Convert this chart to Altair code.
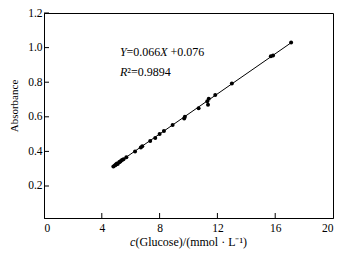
import altair as alt
import pandas as pd

# ---- data ----
conc = [4.8, 4.9, 4.95, 5.0, 5.05, 5.1, 5.2, 5.25, 5.3, 5.4, 5.5, 5.7,
        6.3, 6.7, 6.8, 7.35, 7.7, 8.0, 8.3, 8.9, 9.7, 9.75, 10.7,
        11.3, 11.35, 11.4, 11.85, 13.0, 15.7, 15.85, 17.1]
absorb = [0.313, 0.318, 0.322, 0.325, 0.330, 0.327, 0.337, 0.340, 0.343, 0.350, 0.355, 0.366,
          0.400, 0.423, 0.430, 0.460, 0.478, 0.500, 0.518, 0.553, 0.590, 0.600, 0.650,
          0.690, 0.670, 0.705, 0.726, 0.793, 0.950, 0.955, 1.030]
fit_x = [4.8, 17.1]
fit_y = [0.315, 1.028]
x_ticks = [0, 4, 8, 12, 16, 20]
x_inner_ticks = [4, 8, 12, 16]
y_ticks = [0.2, 0.4, 0.6, 0.8, 1.0, 1.2]
eq_parts = ["Y", "=0.066", "X", "+0.076"]
eq_italic = [True, False, True, False]
eq_dx = [0, 6.5, 40.3, 50.6]
r2_parts = ["R", "²=0.9894"]
r2_italic = [True, False]
r2_dx = [0, 7.3]
eq_pos = (5.26, 0.976)
r2_pos = (5.26, 0.859)
x_title_parts = ["c", "(Glucose)/(mmol · L⁻¹)"]
y_title = "Absorbance"

FONT = "Liberation Serif"
W, H = 289, 205
TICK = 5

xs = alt.Scale(domain=[0, 20], nice=False, zero=False)
ys = alt.Scale(domain=[0.015, 1.2], nice=False, zero=False)

pts_df = pd.DataFrame({"c": conc, "A": absorb})
fit_df = pd.DataFrame({"c": fit_x, "A": fit_y})
xt_df = pd.DataFrame({"c": x_inner_ticks})
yt_df = pd.DataFrame({"A": y_ticks})

x_axis = alt.Axis(orient="bottom", values=x_ticks, ticks=False, tickSize=0, labelPadding=4,
                  domain=True, domainColor="black", domainWidth=1, grid=False,
                  title=None, labelFont=FONT, labelFontSize=11.5,
                  labelColor="black", format="d")
y_axis = alt.Axis(orient="left", values=y_ticks, ticks=False, tickSize=0, labelPadding=2,
                  domain=True, domainColor="black", domainWidth=1, grid=False,
                  title=None, labelFont=FONT, labelFontSize=11.5,
                  labelColor="black", format=".1f")

line = alt.Chart(fit_df).mark_line(color="black", strokeWidth=1).encode(
    x=alt.X("c:Q", scale=xs, axis=x_axis),
    y=alt.Y("A:Q", scale=ys, axis=y_axis),
)

pts = alt.Chart(pts_df).mark_circle(color="black", opacity=1, size=16).encode(
    x=alt.X("c:Q", scale=xs, axis=x_axis),
    y=alt.Y("A:Q", scale=ys, axis=y_axis),
)

# inward-pointing axis ticks, positioned by the scales
x_tick_marks = alt.Chart(xt_df).mark_tick(
    orient="vertical", size=TICK, thickness=1, color="black", opacity=1
).encode(x=alt.X("c:Q", scale=xs, axis=x_axis), y=alt.value(H - TICK / 2))
y_tick_marks = alt.Chart(yt_df).mark_tick(
    orient="horizontal", size=TICK, thickness=1, color="black", opacity=1
).encode(y=alt.Y("A:Q", scale=ys, axis=y_axis), x=alt.value(TICK / 2))

layers = [line, pts, x_tick_marks, y_tick_marks]


def seg(text, italic, dx, pos):
    df = pd.DataFrame({"c": [pos[0]], "A": [pos[1]], "t": [text]})
    return alt.Chart(df).mark_text(
        font=FONT, fontSize=12, fontStyle="italic" if italic else "normal",
        align="left", baseline="middle", dx=dx, color="black"
    ).encode(x=alt.X("c:Q", scale=xs, axis=x_axis),
             y=alt.Y("A:Q", scale=ys, axis=y_axis), text="t:N")


for t, it, d in zip(eq_parts, eq_italic, eq_dx):
    layers.append(seg(t, it, d, eq_pos))
for t, it, d in zip(r2_parts, r2_italic, r2_dx):
    layers.append(seg(t, it, d, r2_pos))

# axis titles as text (for mixed italic)
xtt_df = pd.DataFrame({"t": [x_title_parts[0]]})
layers.append(alt.Chart(xtt_df).mark_text(
    font=FONT, fontSize=12, fontStyle="italic", align="left", baseline="middle",
    color="black").encode(x=alt.value(86), y=alt.value(229), text="t:N"))
xtt2_df = pd.DataFrame({"t": [x_title_parts[1]]})
layers.append(alt.Chart(xtt2_df).mark_text(
    font=FONT, fontSize=12, align="left", baseline="middle", dx=5.5,
    color="black").encode(x=alt.value(86), y=alt.value(229), text="t:N"))
ytt_df = pd.DataFrame({"t": [y_title]})
layers.append(alt.Chart(ytt_df).mark_text(
    font=FONT, fontSize=11, align="center", baseline="middle", angle=270,
    color="black").encode(x=alt.value(-29), y=alt.value(93), text="t:N"))

chart = alt.layer(*layers).properties(
    width=W, height=H,
    autosize=alt.AutoSizeParams(type="none"),
    padding={"left": 44, "top": 13, "right": 25, "bottom": 38},
    background="white",
).configure_view(stroke="black", strokeWidth=1)

chart.save("out.html", embed_options={"renderer": "svg", "actions": False})
